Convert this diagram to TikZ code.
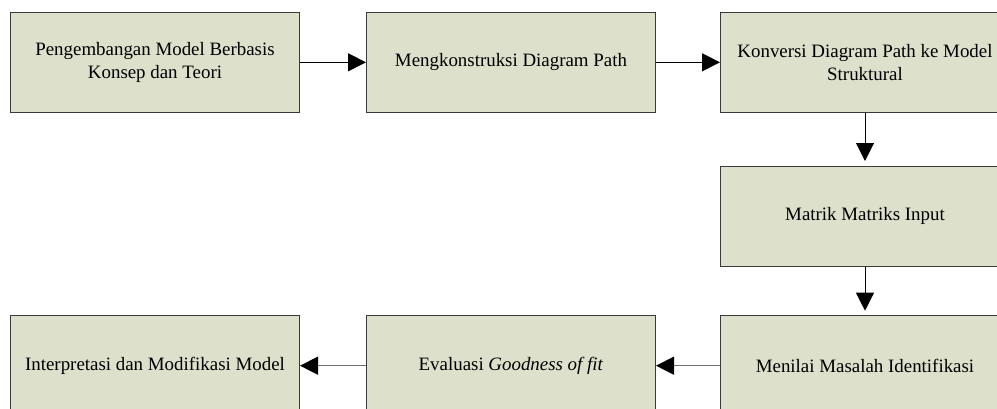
\documentclass[tikz,border=0pt]{standalone}
\usepackage{fontspec}
\setmainfont{Liberation Serif}
\usetikzlibrary{arrows.meta}
\definecolor{boxfill}{HTML}{DDE0CB}
\definecolor{boxline}{HTML}{3A3A3A}
\definecolor{greyline}{HTML}{707070}
\tikzset{
  stepbox/.style={draw=boxline, fill=boxfill, line width=1pt, minimum width=289pt, minimum height=100pt, inner sep=0pt, align=center, font=\fontsize{18.9}{23.3}\selectfont},
  flow/.style={draw=black, line width=1pt, -{Triangle[length=18pt,width=18pt]}},
  flowgrey/.style={draw=greyline, line width=1.3pt, -{Triangle[length=18pt,width=18pt,fill=black,color=black]}}
}
\begin{document}
\begin{tikzpicture}[x=1pt,y=-1pt]
\useasboundingbox (0,0) rectangle (997,408);
\clip (0,0) rectangle (997,408);
\fill[white] (0,0) rectangle (997,408);
\node[stepbox] (b1) at (155,62.3) {Pengembangan Model Berbasis\\Konsep dan Teori};
\node[stepbox] (b2) at (511,62.3) {Mengkonstruksi Diagram Path};
\node[stepbox] (b3) at (865,62.3) {Konversi Diagram Path ke Model\\Struktural};
\node[stepbox] (b4) at (865,216) {Matrik Matriks Input};
\node[stepbox] (b5) at (865,365.7) {Menilai Masalah Identifikasi};
\node[stepbox] (b6) at (511,365.7) {Evaluasi \textit{Goodness of fit}};
\node[stepbox] (b7) at (155,365.7) {Interpretasi dan Modifikasi Model};
\draw[flow] (b1) -- (b2);
\draw[flow] (b2) -- (b3);
\draw[flow, shorten >=4.5pt] (b3) -- (b4);
\draw[flow, shorten >=4.5pt] (b4) -- (b5);
\draw[flowgrey] (b5) -- (b6);
\draw[flowgrey] (b6) -- (b7);
\end{tikzpicture}
\end{document}
